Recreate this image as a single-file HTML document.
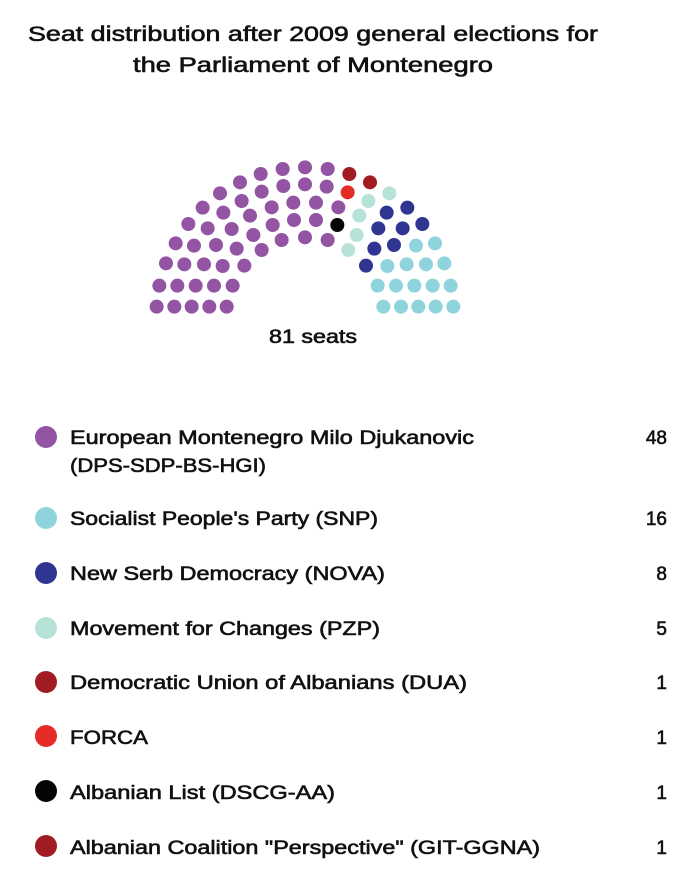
<!DOCTYPE html>
<html><head><meta charset="utf-8"><style>
html,body{margin:0;padding:0;background:#fff;}
svg{display:block;font-family:"Liberation Sans",sans-serif;}
text{fill:#111;stroke:#111;stroke-width:0.6;}
</style></head><body>
<svg width="689" height="891" viewBox="0 0 689 891" xmlns="http://www.w3.org/2000/svg">
<g font-size="21">
<text x="28" y="41" textLength="570" lengthAdjust="spacingAndGlyphs">Seat distribution after 2009 general elections for</text>
<text x="133" y="72" textLength="360" lengthAdjust="spacingAndGlyphs">the  Parliament of Montenegro</text>
</g>
<g transform="translate(140 150) scale(0.33333)">
<g fill="#9354a3">
<circle cx="50" cy="470" r="21"/><circle cx="103" cy="470" r="21"/><circle cx="155" cy="470" r="21"/><circle cx="208" cy="470" r="21"/><circle cx="260" cy="470" r="21"/>
<circle cx="58" cy="407" r="21"/><circle cx="112" cy="407" r="21"/><circle cx="167" cy="407" r="21"/><circle cx="222" cy="407" r="21"/><circle cx="278" cy="407" r="21"/>
<circle cx="78" cy="340" r="21"/><circle cx="133" cy="343" r="21"/><circle cx="192" cy="343" r="21"/><circle cx="248" cy="348" r="21"/><circle cx="313" cy="347" r="21"/>
<circle cx="107" cy="280" r="21"/><circle cx="162" cy="287" r="21"/><circle cx="228" cy="285" r="21"/><circle cx="290" cy="296" r="21"/><circle cx="365" cy="300" r="21"/>
<circle cx="145" cy="222" r="21"/><circle cx="203" cy="235" r="21"/><circle cx="275" cy="237" r="21"/><circle cx="340" cy="255" r="21"/><circle cx="425" cy="270" r="21"/><circle cx="495" cy="262" r="21"/><circle cx="563" cy="270" r="21"/>
<circle cx="188" cy="173" r="21"/><circle cx="250" cy="188" r="21"/><circle cx="330" cy="197" r="21"/><circle cx="398" cy="225" r="21"/><circle cx="462" cy="210" r="21"/><circle cx="528" cy="210" r="21"/>
<circle cx="240" cy="130" r="21"/><circle cx="305" cy="153" r="21"/><circle cx="395" cy="172" r="21"/><circle cx="460" cy="158" r="21"/><circle cx="528" cy="158" r="21"/><circle cx="595" cy="172" r="21"/>
<circle cx="300" cy="97" r="21"/><circle cx="365" cy="125" r="21"/><circle cx="430" cy="108" r="21"/><circle cx="495" cy="103" r="21"/><circle cx="560" cy="110" r="21"/>
<circle cx="362" cy="72" r="21"/><circle cx="428" cy="57" r="21"/><circle cx="495" cy="52" r="21"/><circle cx="563" cy="57" r="21"/>
</g>
<g fill="#a01c22"><circle cx="628" cy="72" r="21"/><circle cx="690" cy="97" r="21"/></g>
<circle cx="623" cy="127" r="21" fill="#e52b27"/>
<circle cx="592" cy="225" r="21" fill="#050505"/>
<g fill="#b6e2d8"><circle cx="748" cy="130" r="21"/><circle cx="685" cy="153" r="21"/><circle cx="658" cy="197" r="21"/><circle cx="650" cy="255" r="21"/><circle cx="625" cy="300" r="21"/></g>
<g fill="#303592"><circle cx="802" cy="173" r="21"/><circle cx="740" cy="188" r="21"/><circle cx="847" cy="222" r="21"/><circle cx="715" cy="235" r="21"/><circle cx="788" cy="235" r="21"/><circle cx="762" cy="285" r="21"/><circle cx="703" cy="296" r="21"/><circle cx="678" cy="347" r="21"/></g>
<g fill="#8fd4dd">
<circle cx="885" cy="280" r="21"/><circle cx="828" cy="287" r="21"/><circle cx="913" cy="340" r="21"/><circle cx="858" cy="343" r="21"/><circle cx="800" cy="343" r="21"/><circle cx="742" cy="348" r="21"/>
<circle cx="932" cy="407" r="21"/><circle cx="878" cy="407" r="21"/><circle cx="823" cy="407" r="21"/><circle cx="768" cy="407" r="21"/><circle cx="713" cy="407" r="21"/>
<circle cx="940" cy="470" r="21"/><circle cx="887" cy="470" r="21"/><circle cx="835" cy="470" r="21"/><circle cx="783" cy="470" r="21"/><circle cx="730" cy="470" r="21"/>
</g>
</g>
<text x="313" y="343" font-size="19" text-anchor="middle" textLength="88" lengthAdjust="spacingAndGlyphs">81 seats</text>
<g font-size="19">
<circle cx="46" cy="437" r="11" fill="#9354a3"/>
<text x="70" y="444" textLength="404" lengthAdjust="spacingAndGlyphs">European Montenegro Milo Djukanovic</text>
<text x="70" y="472" textLength="196" lengthAdjust="spacingAndGlyphs">(DPS-SDP-BS-HGI)</text>
<text x="667" y="444" text-anchor="end">48</text>
<circle cx="46" cy="518" r="11" fill="#8fd4dd"/>
<text x="70" y="525" textLength="308" lengthAdjust="spacingAndGlyphs">Socialist People's Party (SNP)</text>
<text x="667" y="525" text-anchor="end">16</text>
<circle cx="46" cy="573" r="11" fill="#303592"/>
<text x="70" y="580" textLength="315" lengthAdjust="spacingAndGlyphs">New Serb Democracy (NOVA)</text>
<text x="667" y="580" text-anchor="end">8</text>
<circle cx="46" cy="628" r="11" fill="#b6e2d8"/>
<text x="70" y="635" textLength="310" lengthAdjust="spacingAndGlyphs">Movement for Changes (PZP)</text>
<text x="667" y="635" text-anchor="end">5</text>
<circle cx="46" cy="682" r="11" fill="#a01c22"/>
<text x="70" y="689" textLength="397" lengthAdjust="spacingAndGlyphs">Democratic Union of Albanians (DUA)</text>
<text x="667" y="689" text-anchor="end">1</text>
<circle cx="46" cy="736" r="11" fill="#e52b27"/>
<text x="70" y="744" textLength="78" lengthAdjust="spacingAndGlyphs">FORCA</text>
<text x="667" y="744" text-anchor="end">1</text>
<circle cx="46" cy="791" r="11" fill="#050505"/>
<text x="70" y="799" textLength="265" lengthAdjust="spacingAndGlyphs">Albanian List (DSCG-AA)</text>
<text x="667" y="799" text-anchor="end">1</text>
<circle cx="46" cy="846" r="11" fill="#a01c22"/>
<text x="70" y="854" textLength="470" lengthAdjust="spacingAndGlyphs">Albanian Coalition "Perspective" (GIT-GGNA)</text>
<text x="667" y="854" text-anchor="end">1</text>
</g>
</svg>
</body></html>
